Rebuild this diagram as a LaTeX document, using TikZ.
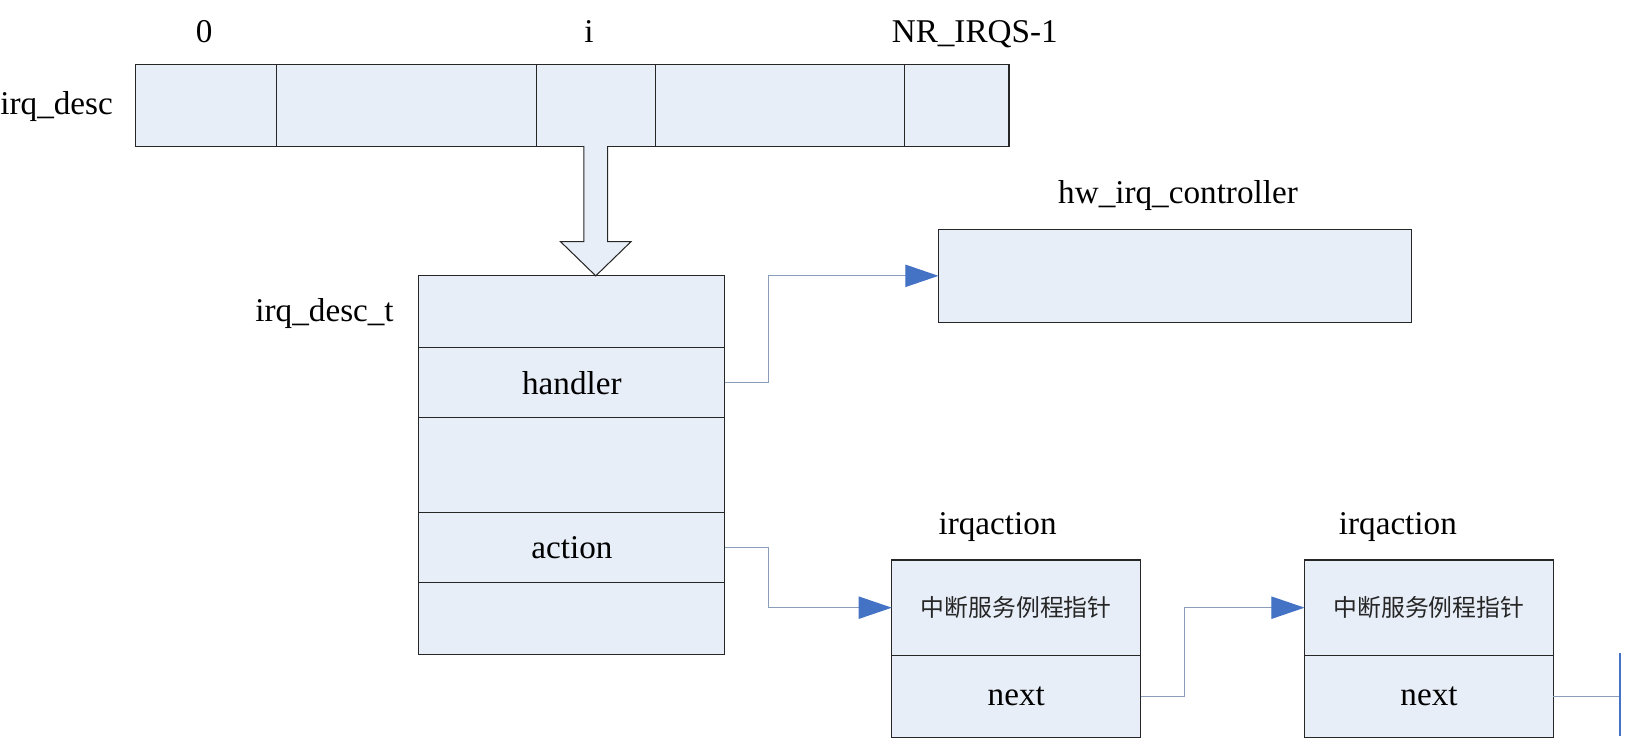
\documentclass[tikz,border=0pt]{standalone}
\usepackage{fontspec}
\setmainfont{Liberation Serif}
\newfontfamily\cjk{Noto Sans CJK SC}
\usetikzlibrary{arrows.meta,calc}
\definecolor{boxfill}{RGB}{232,238,248}
\definecolor{linkc}{RGB}{138,158,188}
\definecolor{headc}{RGB}{68,114,196}
\begin{document}
\begin{tikzpicture}[x=0.5pt,y=-0.5pt,
  cell/.style={draw=black!85, fill=boxfill, line width=0.5pt, inner sep=0pt, outer sep=0pt, anchor=north west},
  txt/.style={font=\fontsize{16}{19}\selectfont},
  lbl/.style={font=\fontsize{16}{19}\selectfont, inner sep=0pt, anchor=base},
  cn/.style={font=\cjk\fontsize{11.5}{14}\selectfont, text=black!85},
  link/.style={draw=linkc, line width=0.6pt, -{Triangle[length=16pt,width=10.75pt,color=headc]}},
]
\useasboundingbox (0,0) rectangle (1568,713);

% irq_desc array
\node[cell, minimum width=68pt,  minimum height=39.5pt] (c0) at (131,62) {};
\node[cell, minimum width=125pt, minimum height=39.5pt] (c1) at (267,62) {};
\node[cell, minimum width=57.5pt, minimum height=39.5pt] (ci) at (517,62) {};
\node[cell, minimum width=120pt, minimum height=39.5pt] (c3) at (632,62) {};
\node[cell, minimum width=50.5pt, minimum height=39.5pt] (cN) at (872,62) {};

\node[lbl] (l0) at (197,41) {0};
\node[lbl] (li) at (568,41) {i};
\node[lbl] (lN) at (940,41) {NR\_IRQS-1};
\node[lbl, anchor=base west] (ld) at (0,110) {irq\_desc};

% irq_desc_t
\node[cell, minimum width=147.5pt, minimum height=34.5pt] (r0) at (404,266) {};
\node[cell, minimum width=147.5pt, minimum height=34pt, txt] (r1) at (404,335) {handler};
\node[cell, minimum width=147.5pt, minimum height=45.5pt] (r2) at (404,403) {};
\node[cell, minimum width=147.5pt, minimum height=34pt, txt] (r3) at (404,494) {action};
\node[cell, minimum width=147.5pt, minimum height=34.5pt] (r4) at (404,562) {};
\node[lbl] (ldt) at (313,310) {irq\_desc\_t};

% block arrow
\coordinate (tip) at (ci.south |- r0.north);
\draw[draw=black!85, fill=boxfill, line width=0.5pt]
  ($(ci.south)+(-11.5,0)$) -- ($(tip)+(-11.5,-33)$) -- ($(tip)+(-34,-33)$) -- (tip)
  -- ($(tip)+(34,-33)$) -- ($(tip)+(11.5,-33)$) -- ($(ci.south)+(11.5,0)$);

% hw_irq_controller
\node[cell, minimum width=228pt, minimum height=45pt] (hw) at (905,221) {};
\node[lbl] (lhw) at (1136,196) {hw\_irq\_controller};

% irqaction boxes
\node[cell, minimum width=120pt, minimum height=46pt, cn] (a1f) at (860,540) {中断服务例程指针};
\node[cell, minimum width=120pt, minimum height=39.5pt, txt] (a1n) at (860,632) {next};
\node[lbl] (la1) at (962,515) {irqaction};
\node[cell, minimum width=120pt, minimum height=46pt, cn] (a2f) at (1258,540) {中断服务例程指针};
\node[cell, minimum width=120pt, minimum height=39.5pt, txt] (a2n) at (1258,632) {next};
\node[lbl] (la2) at (1348,515) {irqaction};

% connectors
\draw[link] (r1.east) -- ++(42,0) |- (hw.west);
\draw[link] (r3.east) -- ++(42,0) |- (a1f.west);
\draw[link] (a1n.east) -- ++(42,0) |- (a2f.west);
\coordinate (term) at (1562,671.5);
\draw[draw=linkc, line width=0.6pt] (a2n.east) -- (term);
\draw[draw=headc, line width=1.2pt] ($(term)+(0,-42)$) -- ($(term)+(0,38)$);
\end{tikzpicture}
\end{document}
